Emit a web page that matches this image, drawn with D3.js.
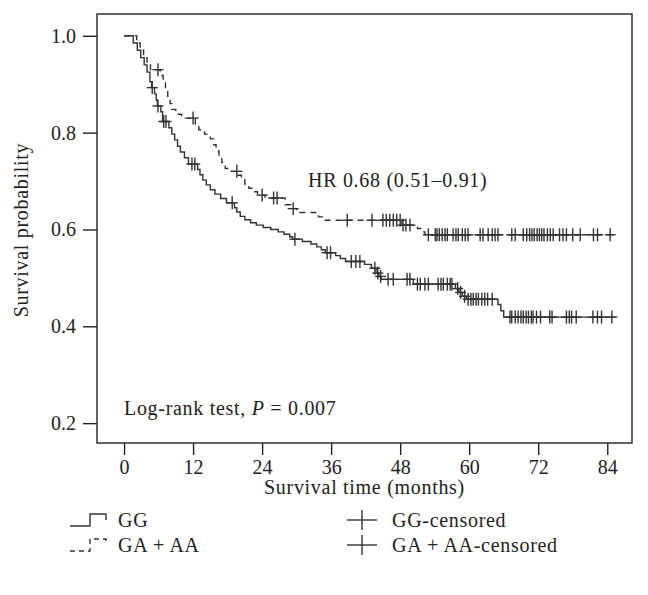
<!DOCTYPE html>
<html><head><meta charset="utf-8">
<script src="https://cdn.jsdelivr.net/npm/d3@7"></script>
<style>body{margin:0;background:#fff}svg{display:block}text{font-family:"Liberation Serif","DejaVu Serif",serif;fill:#222}</style>
</head><body><svg id="c" width="648" height="595"></svg>
<script>
// GG: event times and survival after each event
const ggTimes = [0,1.6,2.3,2.9,3.5,4.0,4.5,4.8,5.3,5.6,5.8,6.4,6.7,7.8,8.3,8.8,9.3,9.8,10.5,11.2,12.8,13.2,13.7,14.3,15.0,15.8,16.8,17.8,19.2,19.6,20.2,21.0,22.0,23.0,24.2,25.5,26.8,27.8,28.8,29.3,31.0,32.5,33.5,34.3,35.0,36.8,37.6,38.5,41.8,43.0,43.8,44.3,44.7,50.3,57.6,58.2,58.8,59.5,65.0,65.5,66.0];
const ggSurv  = [1.0,0.985,0.97,0.955,0.94,0.925,0.905,0.893,0.88,0.867,0.855,0.843,0.823,0.81,0.797,0.785,0.772,0.76,0.748,0.735,0.724,0.713,0.702,0.692,0.682,0.673,0.664,0.655,0.645,0.636,0.627,0.62,0.614,0.609,0.604,0.6,0.595,0.59,0.585,0.58,0.575,0.57,0.564,0.558,0.552,0.546,0.54,0.534,0.528,0.52,0.51,0.503,0.497,0.487,0.478,0.47,0.462,0.456,0.445,0.432,0.419];
const ggEnd = 85.4;
const ggCensor = [4.9,5.9,6.9,7.3,11.8,12.3,18.8,29.7,35.3,35.9,39.5,40.3,41.0,43.6,44.1,44.6,45.9,46.8,49.2,49.7,51.0,51.5,52.3,52.9,54.6,55.1,55.5,56.2,56.7,57.0,58.0,58.5,59.2,59.8,60.3,60.7,61.2,61.6,62.2,62.7,63.2,64.0,67.1,67.4,68.0,68.5,69.0,69.4,69.9,70.3,70.8,71.1,71.7,72.4,74.0,74.4,76.9,77.4,77.8,78.6,81.5,82.3,83.0,84.8];

// GA + AA
const gaTimes = [0,2.2,2.8,3.4,4.0,4.6,6.3,6.8,7.2,7.6,8.0,8.3,9.0,10.0,12.4,13.0,14.0,15.0,15.6,16.0,16.5,17.0,17.6,18.5,19.8,20.4,21.0,21.7,22.5,23.2,24.5,28.0,29.0,30.0,33.8,35.0,48.3,51.0,51.8,52.3];
const gaSurv  = [1.0,0.985,0.97,0.955,0.943,0.93,0.918,0.905,0.89,0.875,0.86,0.848,0.838,0.83,0.818,0.806,0.797,0.787,0.775,0.762,0.75,0.738,0.726,0.72,0.712,0.703,0.694,0.685,0.678,0.671,0.665,0.651,0.643,0.635,0.626,0.619,0.609,0.602,0.595,0.589];
const gaEnd = 84.9;
const gaCensor = [5.9,12.0,19.6,24.0,26.0,26.6,29.4,38.8,43.1,45.0,45.6,46.2,46.8,47.4,48.0,48.5,49.0,49.7,52.9,54.1,54.4,54.8,55.3,55.8,56.2,57.2,57.7,58.1,58.8,59.3,59.8,61.9,62.4,63.3,64.0,64.5,65.0,67.4,68.0,69.4,70.0,70.5,70.9,71.3,71.8,72.2,72.6,73.0,73.6,74.1,74.6,75.7,76.3,76.9,78.0,79.3,81.6,82.3,84.5];

const xTicks = [0,12,24,36,48,60,72,84];
const yTicks = [0.2,0.4,0.6,0.8,1.0];

const svg = d3.select("#c");
const L=97,R=632,T=14,B=443;
const x = d3.scaleLinear().domain([-4.7,88.3]).range([L,R]);
const y = d3.scaleLinear().domain([0.159,1.045]).range([B,T]);
const ink = "#333";
const FS = 20, LS = "0.7px";

svg.append("rect").attr("x",L).attr("y",T).attr("width",R-L).attr("height",B-T)
  .attr("fill","none").attr("stroke","#222").attr("stroke-width",1.4);

const ya = svg.append("g").attr("transform",`translate(${L},0)`)
  .call(d3.axisLeft(y).tickValues(yTicks).tickSize(14).tickPadding(7).tickFormat(d3.format(".1f")));
const xa = svg.append("g").attr("transform",`translate(0,${B})`)
  .call(d3.axisBottom(x).tickValues(xTicks).tickSize(12).tickPadding(5));
[ya,xa].forEach(g=>{
  g.select(".domain").remove();
  g.selectAll("line").attr("stroke","#222").attr("stroke-width",1.4);
  g.selectAll("text").attr("font-size",FS).attr("fill","#222").attr("font-family","Liberation Serif, serif");
});

function label(sel){ return sel.attr("font-size",FS).attr("letter-spacing",LS); }
label(svg.append("text")).attr("x",(L+R)/2).attr("y",494).attr("text-anchor","middle").text("Survival time (months)");
label(svg.append("text")).attr("transform","translate(28,230) rotate(-90)").attr("text-anchor","middle").text("Survival probability");
label(svg.append("text")).attr("x",308).attr("y",187).text("HR 0.68 (0.51–0.91)");
const lr = label(svg.append("text")).attr("x",124).attr("y",415);
lr.append("tspan").text("Log-rank test, ");
lr.append("tspan").attr("font-style","italic").text("P");
lr.append("tspan").text(" = 0.007");

function stepPts(times,surv,end){ const p=times.map((t,i)=>[t,surv[i]]); p.push([end,surv[surv.length-1]]); return p; }
function survAt(times,surv,t){ let s=surv[0]; for(let i=0;i<times.length;i++){ if(times[i]<=t) s=surv[i]; } return s; }
const line = d3.line().x(d=>x(d[0])).y(d=>y(d[1])).curve(d3.curveStepAfter);

function drawGroup(times,surv,end,cens,dash){
  svg.append("path").attr("d",line(stepPts(times,surv,end))).attr("fill","none")
    .attr("stroke",ink).attr("stroke-width",1.4).attr("stroke-dasharray",dash);
  const g = svg.append("g");
  cens.forEach(t=>{
    const cx=x(t), cy=y(survAt(times,surv,t));
    g.append("line").attr("x1",cx).attr("x2",cx).attr("y1",cy-6.5).attr("y2",cy+6.5).attr("stroke",ink).attr("stroke-width",1.4);
    g.append("line").attr("x1",cx-5.5).attr("x2",cx+5.5).attr("y1",cy).attr("y2",cy).attr("stroke",ink).attr("stroke-width",1.4);
  });
}
drawGroup(ggTimes,ggSurv,ggEnd,ggCensor,null);
drawGroup(gaTimes,gaSurv,gaEnd,gaCensor,"6,5");

// legend
const leg = svg.append("g");
const legRows = [{lab:"GG",dash:null,cy:520,clab:"GG-censored"},{lab:"GA + AA",dash:"5,4",cy:545,clab:"GA + AA-censored"}];
legRows.forEach(r=>{
  leg.append("path").attr("d",`M70,${r.cy+6}H90V${r.cy-6}H106V${r.cy}`).attr("fill","none")
    .attr("stroke",ink).attr("stroke-width",1.4).attr("stroke-dasharray",r.dash);
  label(leg.append("text")).attr("x",118).attr("y",r.cy+7).text(r.lab);
  leg.append("line").attr("x1",347).attr("x2",377).attr("y1",r.cy).attr("y2",r.cy).attr("stroke",ink).attr("stroke-width",1.4);
  leg.append("line").attr("x1",362).attr("x2",362).attr("y1",r.cy-10).attr("y2",r.cy+10).attr("stroke",ink).attr("stroke-width",1.4);
  label(leg.append("text")).attr("x",392).attr("y",r.cy+7).text(r.clab);
});
</script></body></html>
